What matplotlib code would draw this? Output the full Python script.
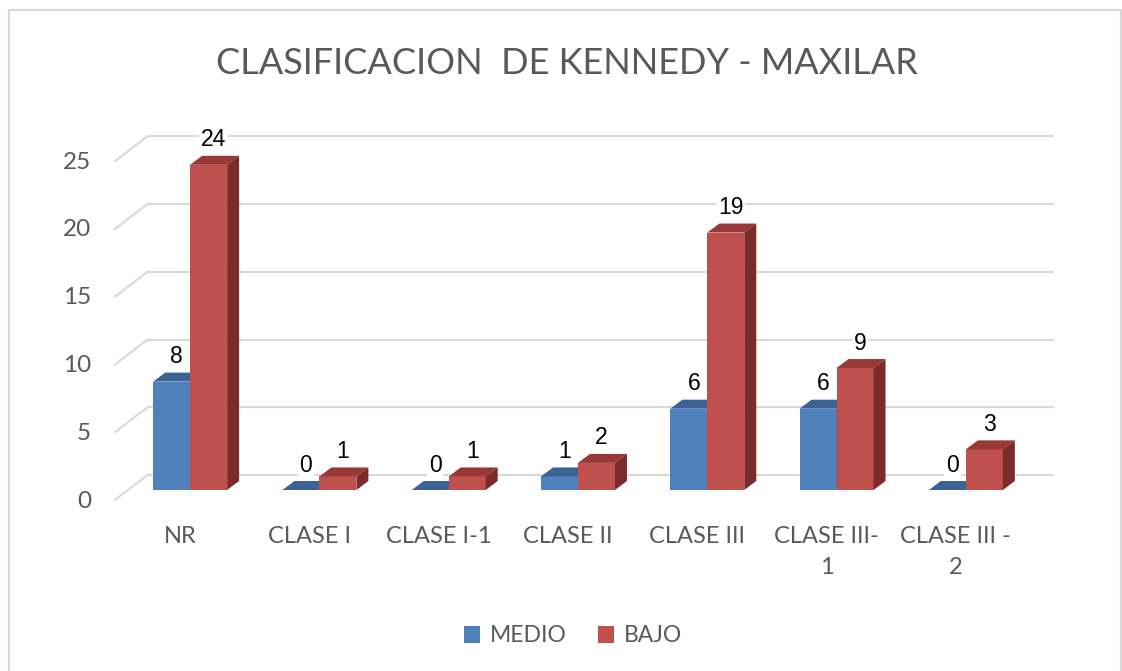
import matplotlib
matplotlib.use("Agg")
import matplotlib.pyplot as plt
from matplotlib.patches import Polygon, Patch, Rectangle
from matplotlib.lines import Line2D
from matplotlib.transforms import IdentityTransform

categories = ["NR", "CLASE I", "CLASE I-1", "CLASE II", "CLASE III", "CLASE III-\n1", "CLASE III -\n2"]
medio = [8, 0, 0, 1, 6, 6, 0]
bajo = [24, 1, 1, 2, 19, 9, 3]
yticks = [0, 5, 10, 15, 20, 25]
title = "CLASIFICACION  DE KENNEDY - MAXILAR"

W, H = 1122, 671
fig = plt.figure(figsize=(W / 100, H / 100), dpi=100)
FONT = "Lato"
GREY = "#595959"

# bar front plane
left_px, right_px = 125.5, 1030.5
base_px, scale = 490.0, 13.55
top_px = base_px - 25 * scale
ax = fig.add_axes([left_px / W, (H - base_px) / H, (right_px - left_px) / W, (base_px - top_px) / H])
ax.set_xlim(-0.5, len(categories) - 0.5)
ax.set_ylim(0, 25)
ax.axis("off")

DX, DY = 12, 9          # bar depth (px, right / up)
WX, WY = 22, 15         # wall offset from bar front plane
FX, FY = -10.5, -10     # front plane offset from bar front plane

bw = 0.286
blue, blue_top = "#4F81BD", "#3B6294"
red, red_top, red_side = "#C0504D", "#973A37", "#7B2C2A"

fig.canvas.draw()
def disp(x, y):
    return ax.transData.transform((x, y))

# gridlines on wall and diagonals
for v in yticks:
    x0, y = disp(-0.5, v)
    x1, _ = disp(len(categories) - 0.5, v)
    ax.add_artist(Line2D([x0 + WX, x1 + WX], [y + WY, y + WY], transform=IdentityTransform(),
                         color="#d9d9d9", lw=1.5, zorder=1, clip_on=False))
    ax.add_artist(Line2D([x0 + FX, x0 + WX], [y + FY, y + WY], transform=IdentityTransform(),
                         color="#d9d9d9", lw=1.5, zorder=1, clip_on=False))
    ax.annotate(str(v), xy=(x0 + FX - 24, y + FY - 1), xycoords="figure pixels",
                ha="right", va="center", fontsize=17.5, color=GREY, family=FONT)

def bar3d(xc, h, front, top, side, z):
    ax.bar([xc], [h], width=bw, color=front, zorder=z, linewidth=0)
    (xa, ya) = disp(xc - bw / 2, h)
    (xb, _) = disp(xc + bw / 2, h)
    (_, y0) = disp(xc, 0)
    ax.add_artist(Polygon([(xa, ya), (xb, ya), (xb + DX, ya + DY), (xa + DX, ya + DY)],
                          closed=True, transform=IdentityTransform(), facecolor=top,
                          edgecolor="none", zorder=z, clip_on=False))
    if side is not None:
        ax.add_artist(Polygon([(xb, y0), (xb, ya), (xb + DX, ya + DY), (xb + DX, y0 + DY)],
                              closed=True, transform=IdentityTransform(), facecolor=side,
                              edgecolor="none", zorder=z, clip_on=False))
    ax.annotate(str(h), xy=(xa + (xb - xa) / 2 + 5, ya + 25), xycoords="figure pixels",
                ha="center", va="center", fontsize=16.5, color="black", family="Liberation Sans",
                zorder=z + 5, bbox=dict(boxstyle="square,pad=0.08", fc="white", ec="none"))

for i, (m, b) in enumerate(zip(medio, bajo)):
    bar3d(i - bw / 2, m, blue, blue_top, blue_top, 3 + i * 0.01)
    bar3d(i + bw / 2, b, red, red_top, red_side, 4 + i * 0.01)

# category labels
for i, c in enumerate(categories):
    x, y = disp(i, 0)
    ax.annotate(c, xy=(x - 10, y - 36), xycoords="figure pixels", ha="center", va="top",
                fontsize=17, color=GREY, family=FONT, linespacing=1.6, multialignment="center")

fig.text(566.5 / W, 1 - 63 / H, title, ha="center", va="center", fontsize=26, color=GREY, family=FONT)

handles = [Patch(facecolor=blue, label="MEDIO"), Patch(facecolor=red, label="BAJO")]
fig.legend(handles=handles, loc="center", bbox_to_anchor=(573 / W, 1 - 636 / H), ncol=2, frameon=False,
           prop={"family": FONT, "size": 16.5}, handlelength=0.7, handleheight=0.7,
           handletextpad=0.4, columnspacing=1.4, labelcolor=GREY)

fig.add_artist(Rectangle((8.5, -20), 1112, H - 10 + 20, transform=IdentityTransform(),
                         fill=False, edgecolor="#d9d9d9", lw=1.5))

fig.savefig("out.png", dpi=100)
